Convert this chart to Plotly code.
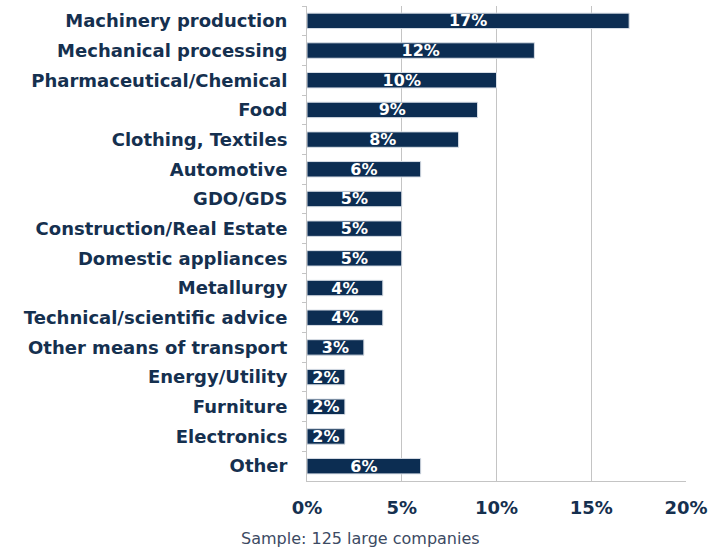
import plotly.graph_objects as go

# Sector breakdown of the sample
sectors = [
    "Machinery production", "Mechanical processing", "Pharmaceutical/Chemical",
    "Food", "Clothing, Textiles", "Automotive", "GDO/GDS",
    "Construction/Real Estate", "Domestic appliances", "Metallurgy",
    "Technical/scientific advice", "Other means of transport",
    "Energy/Utility", "Furniture", "Electronics", "Other",
]
shares = [17, 12, 10, 9, 8, 6, 5, 5, 5, 4, 4, 3, 2, 2, 2, 6]
x_ticks = [0, 5, 10, 15, 20]
x_tick_labels = ["0%", "5%", "10%", "15%", "20%"]

NAVY = "#0c2d52"
TEXT = "#15304f"
GRID = "#c4c4c4"
FONT = "DejaVu Sans"

fig = go.Figure(
    go.Bar(
        y=sectors,
        x=shares,
        orientation="h",
        marker=dict(color=NAVY, line=dict(color="#d8dee6", width=1)),
        width=0.52,
        text=[f"{v}%" for v in shares],
        textposition="inside",
        insidetextanchor="middle",
        constraintext="none",
        textfont=dict(family=FONT, size=16, color="white", weight="bold"),
        hoverinfo="skip",
    )
)

fig.update_yaxes(
    autorange="reversed",
    showline=True, linecolor=GRID, linewidth=1,
    ticks="outside", tickson="boundaries", ticklen=4, tickcolor=GRID,
    tickfont=dict(family=FONT, size=18, color=TEXT, weight="bold"),
    ticklabelstandoff=15,
    showgrid=False,
)
fig.update_xaxes(
    range=[0, 20],
    tickvals=x_ticks, ticktext=x_tick_labels,
    showgrid=True, gridcolor=GRID, gridwidth=1,
    showline=True, linecolor=GRID, linewidth=1,
    zeroline=False,
    tickfont=dict(family=FONT, size=18, color=TEXT, weight="bold"),
    ticks="", ticklabelstandoff=10,
)

fig.add_annotation(
    text="Sample: 125 large companies",
    xref="paper", yref="paper", x=0.14, y=-0.12,
    xanchor="center", yanchor="middle", showarrow=False,
    font=dict(family=FONT, size=16, color="#3c4a63"),
)

fig.update_layout(
    width=717, height=552,
    margin=dict(l=307, r=31, t=6, b=71),
    paper_bgcolor="white", plot_bgcolor="white",
    showlegend=False,
)

fig.write_html("out.html")
